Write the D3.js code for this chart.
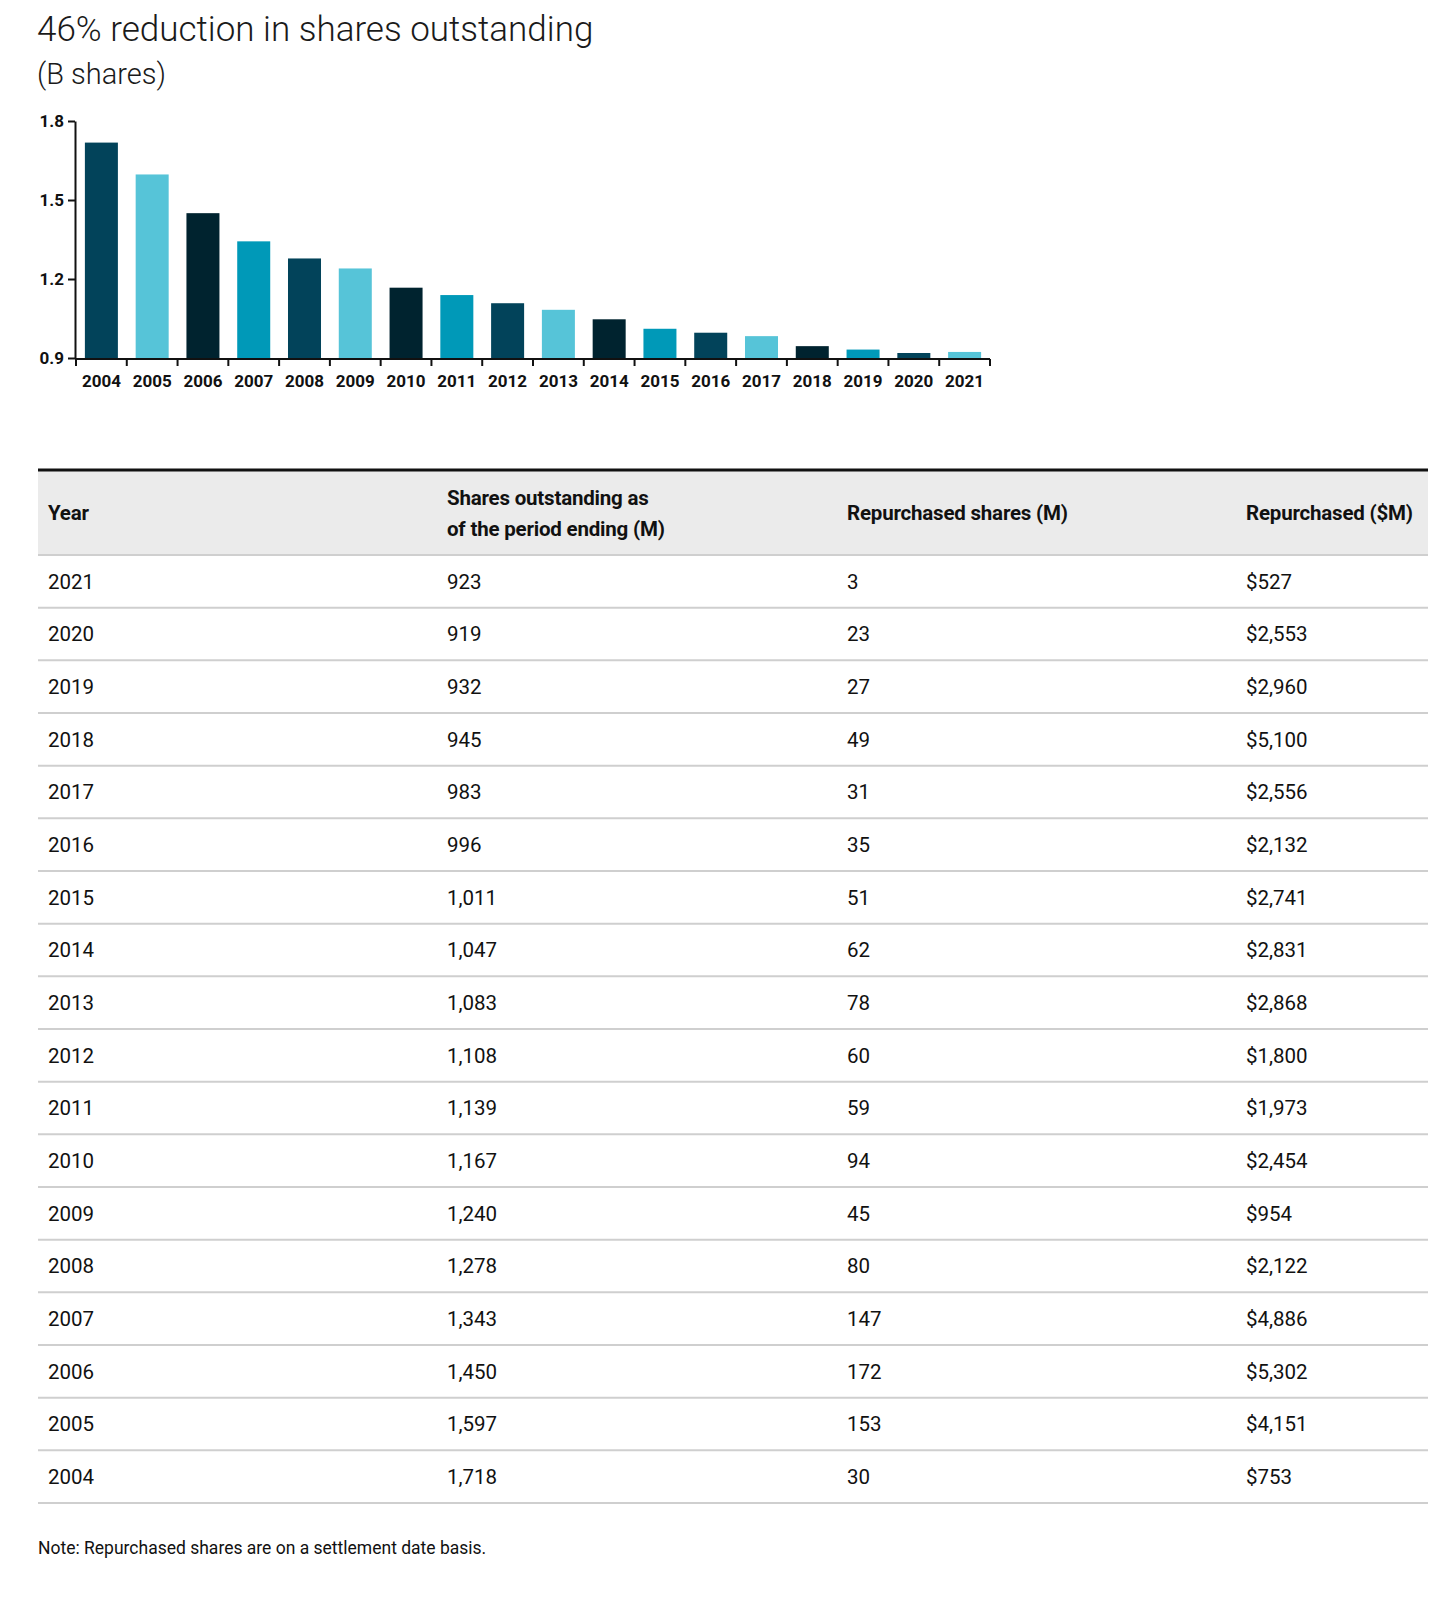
<!DOCTYPE html>
<html>
<head>
<meta charset="utf-8">
<script src="https://cdn.jsdelivr.net/npm/d3@7"></script>
<style>
  html, body { margin: 0; padding: 0; background: #fff; }
  svg { display: block; font-family: Roboto, "Noto Sans", sans-serif; }
</style>
</head>
<body>
<div id="chart"></div>
<script>
// ---- Data ----
const years = [2021, 2020, 2019, 2018, 2017, 2016, 2015, 2014, 2013, 2012, 2011, 2010, 2009, 2008, 2007, 2006, 2005, 2004];
const sharesOutstanding = [923, 919, 932, 945, 983, 996, 1011, 1047, 1083, 1108, 1139, 1167, 1240, 1278, 1343, 1450, 1597, 1718];
const repurchasedShares = [3, 23, 27, 49, 31, 35, 51, 62, 78, 60, 59, 94, 45, 80, 147, 172, 153, 30];
const repurchasedDollars = [527, 2553, 2960, 5100, 2556, 2132, 2741, 2831, 2868, 1800, 1973, 2454, 954, 2122, 4886, 5302, 4151, 753];
const yTicks = [0.9, 1.2, 1.5, 1.8];
const barColors = ["#02435A", "#56C4D8", "#00232F", "#0099B8"];
const headers = [["Year"], ["Shares outstanding as", "of the period ending (M)"], ["Repurchased shares (M)"], ["Repurchased ($M)"]];
const title = "46% reduction in shares outstanding";
const subtitle = "(B shares)";
const note = "Note: Repurchased shares are on a settlement date basis.";

// ---- Setup ----
const W = 1456, H = 1598;
const svg = d3.select("#chart").append("svg").attr("width", W).attr("height", H);

svg.append("text").attr("x", 37).attr("y", 41)
  .attr("font-size", 35).attr("font-weight", 300).attr("fill", "#1a1a1a").text(title);
svg.append("text").attr("x", 37).attr("y", 84)
  .attr("font-size", 29).attr("font-weight", 300).attr("fill", "#1a1a1a").text(subtitle);

// ---- Bar chart ----
const chartYears = years.slice().reverse();
const chartVals = sharesOutstanding.slice().reverse().map(v => v / 1000);

const x = d3.scaleBand().domain(chartYears).range([76, 990]).paddingInner(0.35).paddingOuter(0.175);
const y = d3.scaleLinear().domain([0.9, 1.8]).range([358, 121]);

const g = svg.append("g");
g.selectAll("rect.bar").data(chartYears).join("rect")
  .attr("class", "bar")
  .attr("x", d => x(d))
  .attr("width", x.bandwidth())
  .attr("y", (d, i) => y(chartVals[i]))
  .attr("height", (d, i) => y(0.9) - y(chartVals[i]))
  .attr("fill", (d, i) => barColors[i % 4]);

// y axis
const yAxis = g.append("g").attr("transform", "translate(75,0)")
  .call(d3.axisLeft(y).tickValues(yTicks).tickFormat(d3.format(".1f")).tickSize(7).tickSizeOuter(0));
yAxis.select(".domain").attr("stroke", "#111").attr("stroke-width", 2);
yAxis.selectAll(".tick line").attr("stroke", "#111").attr("stroke-width", 2);
yAxis.selectAll(".tick text").attr("font-size", 17).attr("font-weight", 700).attr("fill", "#111")
  .attr("font-family", "Roboto").attr("x", -11);

// x axis with ticks at band boundaries
const xAxisG = g.append("g").attr("transform", "translate(0,359)");
xAxisG.append("line").attr("x1", 75).attr("x2", x.range()[1]).attr("y1", 0).attr("y2", 0)
  .attr("stroke", "#111").attr("stroke-width", 2);
const step = x.step();
const bounds = chartYears.map(d => x(d) + x.bandwidth() + step * x.paddingInner() / 2);
xAxisG.selectAll("line.tk").data(bounds).join("line").attr("class", "tk")
  .attr("x1", d => d).attr("x2", d => d).attr("y1", 0).attr("y2", 7)
  .attr("stroke", "#111").attr("stroke-width", 2);
xAxisG.append("line").attr("x1", 76).attr("x2", 76).attr("y1", 0).attr("y2", 7)
  .attr("stroke", "#111").attr("stroke-width", 2);
xAxisG.selectAll("text.xl").data(chartYears).join("text").attr("class", "xl")
  .attr("x", d => x(d) + x.bandwidth() / 2).attr("y", 28)
  .attr("text-anchor", "middle").attr("font-size", 17).attr("font-weight", 700).attr("fill", "#111")
  .text(d => d);

// ---- Table ----
const tLeft = 38, tRight = 1428;
const colX = d3.scaleOrdinal().domain([0, 1, 2, 3]).range([48, 447, 847, 1246]);
const headTop = 471, headBottom = 555;
const rowH = (1503 - headBottom) / years.length;

svg.append("rect").attr("x", tLeft).attr("y", headTop).attr("width", tRight - tLeft).attr("height", headBottom - headTop)
  .attr("fill", "#ebebeb");
svg.append("line").attr("x1", tLeft).attr("x2", tRight).attr("y1", 470).attr("y2", 470)
  .attr("stroke", "#111").attr("stroke-width", 3);

headers.forEach((lines, ci) => {
  const cy = (headTop + headBottom) / 2;
  const lh = 31;
  lines.forEach((ln, li) => {
    svg.append("text").attr("x", colX(ci))
      .attr("y", cy + (li - (lines.length - 1) / 2) * lh)
      .attr("dy", "0.35em")
      .attr("font-size", 20.5).attr("font-weight", 700).attr("fill", "#111")
      .attr("letter-spacing", "-0.2px")
      .text(ln);
  });
});

const fmt = d3.format(",");
const rows = years.map((yr, i) => [String(yr), fmt(sharesOutstanding[i]), fmt(repurchasedShares[i]), "$" + fmt(repurchasedDollars[i])]);

const rowG = svg.selectAll("g.row").data(rows).join("g").attr("class", "row")
  .attr("transform", (d, i) => `translate(0,${headBottom + i * rowH})`);
rowG.selectAll("text").data(d => d).join("text")
  .attr("x", (d, ci) => colX(ci)).attr("y", rowH / 2).attr("dy", "0.35em")
  .attr("font-size", 20.5).attr("fill", "#111").text(d => d);
svg.append("line").attr("x1", tLeft).attr("x2", tRight).attr("y1", headBottom).attr("y2", headBottom)
  .attr("stroke", "#cfcfcf").attr("stroke-width", 2);
rowG.append("line").attr("x1", tLeft).attr("x2", tRight).attr("y1", rowH).attr("y2", rowH)
  .attr("stroke", "#cfcfcf").attr("stroke-width", 2);

svg.append("text").attr("x", 38).attr("y", 1548).attr("dy", "0.35em")
  .attr("font-size", 17.5).attr("fill", "#111").text(note);
</script>
</body>
</html>
